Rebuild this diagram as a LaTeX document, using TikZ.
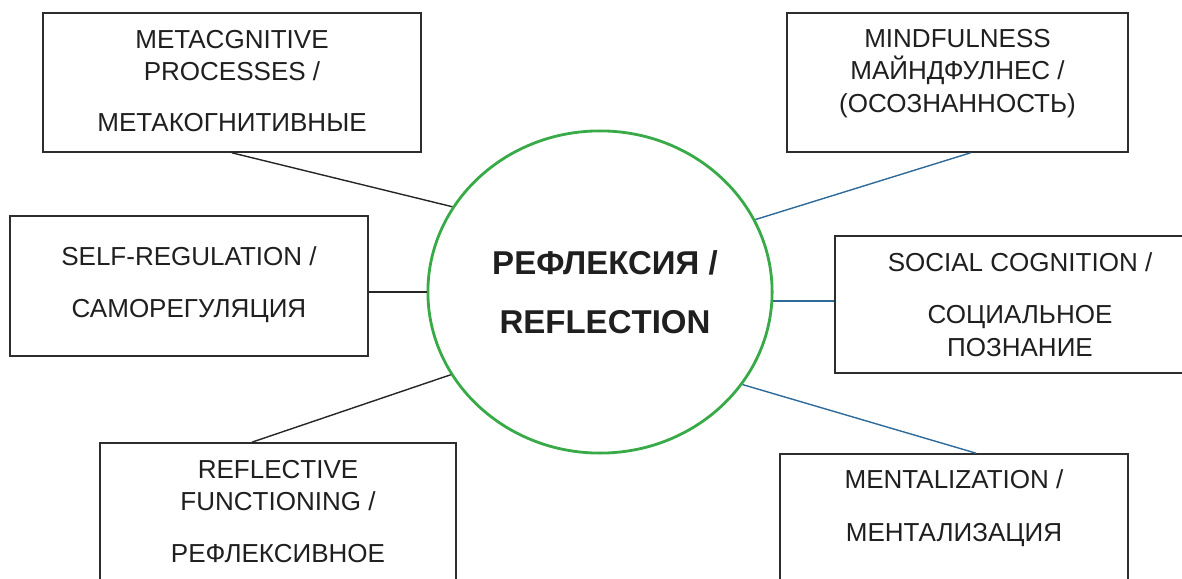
\documentclass[tikz,border=0pt]{standalone}
\usepackage{fontspec}
\setmainfont{Liberation Sans}
\usetikzlibrary{calc,shapes.geometric}
\definecolor{ringgreen}{RGB}{57,170,72}
\definecolor{linkblue}{RGB}{46,106,154}
\definecolor{boxgray}{RGB}{45,45,45}
\tikzset{
  box/.style={draw=boxgray, line width=0.45pt, inner sep=0pt},
  boxtext/.style={anchor=north, align=center, inner sep=0pt, text=black!88,
    font=\fontsize{0.26cm}{0.325cm}\selectfont},
  hub/.style={ellipse, draw=ringgreen, line width=0.8pt, inner sep=0pt,
    minimum width=3.44cm, minimum height=3.22cm},
  hubtext/.style={anchor=north, align=center, inner sep=0pt, text=black!88,
    font=\fontsize{0.33cm}{0.59cm}\selectfont\bfseries},
  darklink/.style={draw=black!85, line width=0.4pt},
  bluelink/.style={draw=linkblue, line width=0.4pt}
}
\begin{document}
\begin{tikzpicture}[x=0.01cm, y=-0.01cm]
            \clip (0,0) rectangle (1182,579);

            % centre
            \node[hub] (hub) at (600,292) {};
            \node[hubtext] (hubt) at (605,249.4) {РЕФЛЕКСИЯ /\\REFLECTION};

            % boxes
            \node[box, minimum width=3.78cm, minimum height=1.39cm] (mc) at (232,82.5) {};
            \node[box, minimum width=3.41cm, minimum height=1.39cm] (mf) at (957.5,82.5) {};
            \node[box, minimum width=3.58cm, minimum height=1.40cm] (sr) at (189,286) {};
            \node[box, minimum width=3.70cm, minimum height=1.37cm] (sc) at (1020,304.5) {};
            \node[box, minimum width=3.56cm, minimum height=1.50cm] (rf) at (278,518) {};
            \node[box, minimum width=3.48cm, minimum height=1.50cm] (mz) at (954,529) {};

            \node[boxtext] (mct) at (232,29.4) {METACGNITIVE\\PROCESSES /\\[0.185cm]МЕТАКОГНИТИВНЫЕ};
            \node[boxtext] (mft) at (957.5,28.4) {MINDFULNESS\\МАЙНДФУЛНЕС /\\(ОСОЗНАННОСТЬ)};
            \node[boxtext] (srt) at (189,246.4) {SELF-REGULATION /\\[0.195cm]САМОРЕГУЛЯЦИЯ};
            \node[boxtext] (sct) at (1020,252.4) {SOCIAL COGNITION /\\[0.195cm]СОЦИАЛЬНОЕ\\ПОЗНАНИЕ};
            \node[boxtext] (rft) at (278,459.4) {REFLECTIVE\\FUNCTIONING /\\[0.195cm]РЕФЛЕКСИВНОЕ};
            \node[boxtext] (mzt) at (954,469.4) {MENTALIZATION /\\[0.205cm]МЕНТАЛИЗАЦИЯ};

            % links
            \draw[darklink] (mc.south) -- (hub.150);
            \draw[darklink] (sr.east |- hub.180) -- (hub.180);
            \draw[darklink] ($(rf.north)+(-26,0)$) -- (hub.209);
            \draw[bluelink] ($(mf.south)+(13,0)$) -- (hub.25);
            \draw[bluelink] (hub.-3) -- (hub.-3 -| sc.west);
            \draw[bluelink] (hub.-33) -- ($(mz.north)+(22,0)$);
    \end{tikzpicture}
\end{document}
